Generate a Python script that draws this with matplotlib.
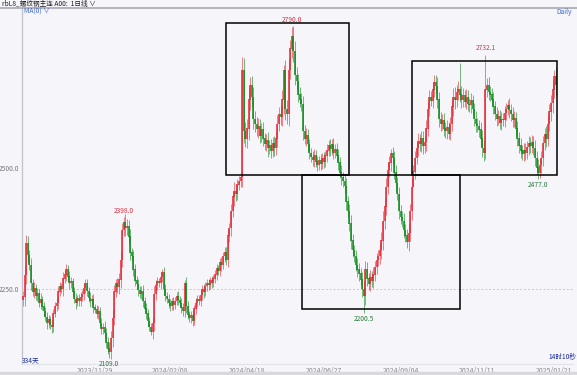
import numpy as np
import matplotlib
matplotlib.use('Agg')
import matplotlib.pyplot as plt
from matplotlib.patches import Rectangle

plt.rcParams['font.family'] = ['Noto Sans CJK SC', 'DejaVu Sans']

# === Daten (Schlusskurse) ===
first_open = 2228
closes = [
    2235, 2279, 2345, 2320, 2300, 2262, 2245, 2252, 2236, 2242,
    2222, 2230, 2214, 2205, 2192, 2180, 2188, 2176, 2172, 2200,
    2215, 2222, 2245, 2256, 2250, 2272, 2280, 2290, 2276, 2262,
    2266, 2245, 2230, 2222, 2232, 2225, 2234, 2240, 2252, 2262,
    2246, 2232, 2226, 2230, 2212, 2208, 2200, 2205, 2180, 2168,
    2172, 2160, 2140, 2128, 2122, 2150, 2190, 2245, 2262, 2255,
    2270, 2310, 2372, 2388, 2376, 2380, 2358, 2325, 2318, 2290,
    2268, 2260, 2248, 2240, 2246, 2225, 2210, 2200, 2185, 2172,
    2162, 2180, 2240, 2258, 2266, 2262, 2275, 2284, 2250, 2236,
    2230, 2222, 2215, 2225, 2218, 2226, 2235, 2228, 2222, 2212,
    2205, 2262, 2215, 2198, 2190, 2196, 2185, 2210, 2222, 2230,
    2226, 2238, 2250, 2244, 2256, 2262, 2258, 2268, 2262, 2272,
    2280, 2292, 2288, 2305, 2300, 2318, 2326, 2310, 2360, 2375,
    2410, 2440, 2452, 2446, 2465, 2472, 2480, 2700, 2575, 2560,
    2580, 2640, 2670, 2645, 2600, 2590, 2580, 2585, 2566, 2578,
    2560, 2548, 2556, 2540, 2545, 2535, 2550, 2540, 2560, 2590,
    2610, 2605, 2640, 2700, 2620, 2610, 2700, 2745, 2770, 2740,
    2690, 2678, 2650, 2640, 2630, 2575, 2560, 2566, 2548, 2530,
    2522, 2515, 2525, 2512, 2506, 2515, 2508, 2520, 2512, 2525,
    2535, 2545, 2538, 2548, 2530, 2538, 2525, 2510, 2490, 2480,
    2472, 2462, 2430, 2410, 2385, 2350, 2330, 2318, 2300, 2290,
    2282, 2270, 2250, 2236, 2290, 2272, 2260, 2275, 2268, 2280,
    2296, 2310, 2318, 2330, 2350, 2390, 2420, 2460, 2495, 2510,
    2530, 2520, 2490, 2468, 2445, 2410, 2398, 2390, 2372, 2360,
    2348, 2365, 2410, 2460, 2492, 2520, 2540, 2555, 2548, 2560,
    2545, 2552, 2580, 2620, 2645, 2638, 2660, 2675, 2668, 2640,
    2600, 2590, 2598, 2580, 2575, 2582, 2570, 2590, 2625, 2645,
    2640, 2655, 2662, 2650, 2640, 2648, 2636, 2645, 2630, 2628,
    2638, 2620, 2600, 2590, 2585, 2578, 2560, 2540, 2530, 2660,
    2670, 2655, 2650, 2640, 2625, 2610, 2600, 2606, 2592, 2600,
    2598, 2612, 2620, 2628, 2618, 2610, 2598, 2602, 2580, 2560,
    2545, 2535, 2528, 2536, 2530, 2542, 2550, 2545, 2552, 2540,
    2520, 2500, 2490, 2505, 2520, 2550, 2568, 2560, 2590, 2615,
    2632, 2660, 2688, 2670,
]

# Dochtlänge je Kerze (geschätzt)
wick = [
    12, 20, 18, 15, 10, 14, 9, 12, 8, 10,
    9, 12, 7, 10, 8, 11, 9, 7, 12, 10,
    8, 10, 12, 9, 7, 14, 10, 12, 9, 11,
    10, 8, 9, 12, 7, 9, 10, 8, 11, 9,
    10, 8, 12, 9, 10, 7, 9, 11, 8, 10,
    9, 12, 10, 11, 13, 15, 18, 14, 10, 12,
    14, 18, 15, 12, 16, 14, 12, 15, 10, 13,
    11, 9, 12, 8, 10, 12, 9, 11, 10, 8,
    9, 14, 16, 12, 10, 8, 11, 9, 12, 10,
    8, 10, 9, 7, 10, 8, 9, 11, 8, 10,
    9, 12, 14, 10, 8, 9, 11, 8, 10, 9,
    8, 10, 9, 11, 8, 10, 9, 7, 10, 8,
    9, 11, 8, 10, 12, 9, 11, 10, 14, 12,
    15, 12, 18, 14, 12, 10, 12, 20, 25, 18,
    20, 24, 22, 18, 20, 16, 14, 18, 15, 14,
    16, 12, 14, 18, 12, 15, 13, 16, 14, 18,
    15, 18, 20, 30, 22, 20, 24, 18, 20, 22,
    20, 18, 15, 16, 14, 18, 12, 15, 13, 12,
    10, 12, 14, 11, 12, 10, 13, 11, 12, 10,
    14, 12, 15, 11, 13, 10, 12, 14, 12, 15,
    12, 14, 16, 12, 15, 18, 14, 12, 13, 15,
    14, 12, 16, 14, 18, 16, 12, 14, 13, 15,
    12, 14, 12, 15, 18, 20, 16, 18, 15, 14,
    16, 12, 14, 16, 12, 15, 14, 12, 16, 13,
    14, 20, 16, 18, 14, 15, 12, 16, 14, 15,
    16, 14, 18, 15, 14, 12, 16, 14, 15, 18,
    16, 14, 12, 15, 14, 16, 12, 14, 15, 18,
    20, 15, 16, 14, 18, 15, 12, 16, 14, 13,
    15, 12, 14, 16, 12, 14, 15, 18, 16, 12,
    14, 16, 12, 14, 15, 12, 14, 13, 12, 14,
    12, 15, 14, 12, 16, 13, 14, 15, 12, 16,
    14, 16, 12, 15, 14, 12, 16, 14, 15, 13,
    16, 14, 18, 12, 15, 16, 14, 18, 16, 15,
    18, 20, 16, 20,
]

# Dochte (Hochs / Tiefs) an auffälligen Kerzen
hi_idx = [2, 63, 87, 101, 137, 142, 163, 168, 230, 257, 273, 289, 332]
hi_val = [2362, 2398, 2292, 2270, 2727, 2686, 2712, 2790, 2538, 2690, 2715, 2732.1, 2700]
lo_idx = [54, 80, 213, 244, 322]
lo_val = [2109, 2156, 2200.5, 2460, 2477]

# Markierte Extremwerte
mark_hi = [63, 168, 289]
mark_lo = [54, 213, 322]

# Zeitachse
tick_idx = [45, 92, 140, 188, 236, 284, 332]
tick_lab = ['2023/11/29', '2024/02/08', '2024/04/18', '2024/06/27',
            '2024/09/04', '2024/11/11', '2025/01/21']

# Rechtecke (Start-/Endkerze, Preis unten/oben)
box_left = [126.9, 174.4, 243.1]
box_right = [203.75, 273.1, 333.75]
box_low = [2485, 2210, 2485]
box_high = [2797, 2485, 2719]

# === OHLC ===
closes = np.array(closes, dtype=float)
wick = np.array(wick, dtype=float)
opens = np.concatenate([[first_open], closes[:-1]])
highs = np.maximum(opens, closes) + wick
lows = np.minimum(opens, closes) - wick
for i, v in zip(hi_idx, hi_val):
    highs[i] = v
for i, v in zip(lo_idx, lo_val):
    lows[i] = v
idx = np.arange(len(closes))

UP = '#e8242e'
DOWN = '#0a8a16'
BG = '#f5f5fa'
cols = [UP if c >= o else DOWN for o, c in zip(opens, closes)]

fig = plt.figure(figsize=(5.77, 3.75), dpi=100, facecolor=BG)
ax = fig.add_axes([22/577, 11/375, 551/577, 356/375], facecolor=BG)

ax.axhline(2250, color='#c8c8d2', lw=0.7, ls=(0, (2, 2)), zorder=0)

ax.vlines(idx, lows, highs, colors=cols, lw=0.5, alpha=0.8, zorder=2)
ax.vlines(idx, np.minimum(opens, closes), np.maximum(opens, closes) + 0.8,
          colors=cols, lw=1.1, zorder=3)

for l, r, lo, hi in zip(box_left, box_right, box_low, box_high):
    ax.add_patch(Rectangle((l, lo), r - l, hi - lo, fill=False, ec='black', lw=1.1, zorder=4))

for i in mark_hi:
    ax.annotate(f'{highs[i]:.1f}', (i, highs[i]), xytext=(0, 2), textcoords='offset points',
                ha='center', va='bottom', fontsize=4.8, color='#e03040', zorder=5)
for i in mark_lo:
    ax.annotate(f'{lows[i]:.1f}', (i, lows[i]), xytext=(0, -1.5), textcoords='offset points',
                ha='center', va='top', fontsize=4.8, color='#2a7a3a', zorder=5)

ax.set_xlim(-0.625, 343.75)
ax.set_ylim(2096.4, 2828.3)

ax.set_xticks(tick_idx)
ax.set_xticklabels(tick_lab, fontsize=5, color='#8a8a8a')
ax.set_yticks([2250, 2500])
ax.set_yticklabels(['2250.0', '2500.0'], fontsize=4.8, color='#7a7a7a')
ax.tick_params(length=0, pad=2)
for s in ['top', 'right']:
    ax.spines[s].set_visible(False)
ax.spines['left'].set_color('#c4c4cc')
ax.spines['left'].set_linewidth(1.0)
ax.spines['bottom'].set_color('#e2e2ea')
ax.spines['bottom'].set_linewidth(0.8)

# Kopfzeile / Fußzeile
fig.add_artist(plt.Line2D([0, 1], [1 - 8/375, 1 - 8/375], color='#a8a8b0', lw=1.2))
fig.add_artist(plt.Line2D([0, 1], [2/375, 2/375], color='#d8d8de', lw=2.5))
fig.text(2/577, 1 - 4/375, 'rbL8_螺纹钢主连 A00:  1日线 ∨', fontsize=4.8, color='#202020',
         va='center', ha='left')
fig.text(24/577, 1 - 12/375, 'MA(0) ∨', fontsize=4.8, color='#3a66d8', va='center', ha='left')
fig.text(572/577, 1 - 12/375, 'Daily', fontsize=4.8, color='#3a66d8', va='center', ha='right')
fig.text(22/577, 1 - 360/375, '334天', fontsize=4.8, color='#1a2a9a', va='center', ha='left')
fig.text(576/577, 1 - 357/375, '14时10秒', fontsize=4.8, color='#1a2a9a', va='center', ha='right')

fig.savefig('out.png', dpi=100, facecolor=BG)
